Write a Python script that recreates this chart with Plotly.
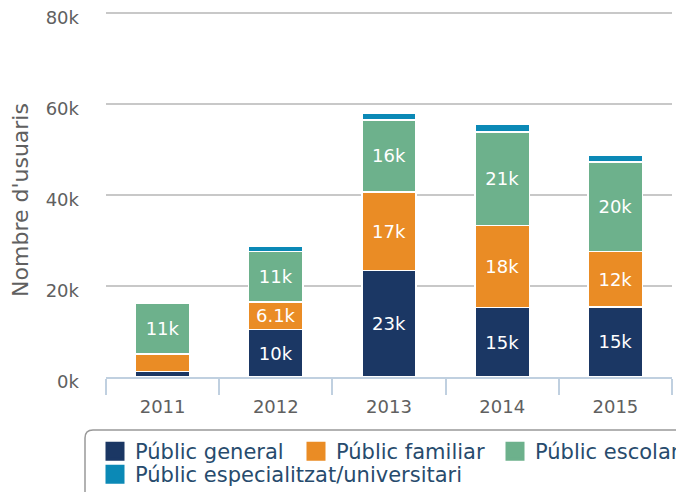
import plotly.graph_objects as go

years = ["2011", "2012", "2013", "2014", "2015"]
public_general = [1.2, 10.4, 23.4, 15.3, 15.4]
public_familiar = [3.9, 6.1, 17.3, 18.0, 12.2]
public_escolar = [11.1, 11.1, 15.8, 20.6, 19.7]
public_especialitzat = [0, 1.1, 1.5, 1.7, 1.5]
y_ticks = [0, 20000, 40000, 60000, 80000]
y_ticklabels = ["0k", "20k", "40k", "60k", "80k"]

series = [
    ("Públic general", public_general, "#1b3764"),
    ("Públic familiar", public_familiar, "#ea8c25"),
    ("Públic escolar", public_escolar, "#6db18c"),
    ("Públic especialitzat/universitari", public_especialitzat, "#0b89b6"),
]
legend_ids = ["legend", "legend", "legend3", "legend2"]

FONT = "DejaVu Sans"

fig = go.Figure()
for name, vals, color in series:
    ys = [v * 1000 for v in vals]
    texts = [f"{v:.2g}k" if v >= 5 else "" for v in vals]
    texts = [t.replace("e+01", "0") for t in texts]
    fig.add_trace(go.Bar(
        x=years, y=ys, name=name, showlegend=False,
        marker=dict(color=color, line=dict(color="white", width=1.5)),
        text=texts, textposition="inside", insidetextanchor="middle",
        constraintext="none",
        textfont=dict(color="white", size=18, family=FONT),
        hoverinfo="skip",
    ))
# legend-only entries with larger square symbols (on the label axis)
for (name, vals, color), lg in zip(series, legend_ids):
    fig.add_trace(go.Scatter(
        x=[None], y=[None], mode="markers", name=name, yaxis="y2",
        marker=dict(symbol="square", size=16, color=color, line=dict(color=color, width=3)),
        showlegend=True, legend=lg,
    ))

# the page has an 8px body margin, so the figure is offset by 8px
W, H = 676, 484
SHIFT = 5  # y tick labels sit a few px below their grid lines
ML, MT, MR, MB = 98, 1, 12, 115 - SHIFT
pw, ph = W - ML - MR, H - MT - MB
plot_top, plot_bottom = 13, 377
YMAX = 80000
pad_units = 700  # small headroom so the top grid line is not clipped
pad_px = pad_units * (plot_bottom - plot_top) / YMAX

def px_x(p):
    return (p - 8 - ML) / pw

def px_y(p):
    return 1 - (p - 8 - MT) / ph

# rounded legend border
x0, x1 = px_x(85), px_x(700)
y0, y1 = px_y(430), px_y(520)
rx, ry = 8 / pw, 8 / ph
path = (f"M {x0+rx},{y0} L {x1-rx},{y0} Q {x1},{y0} {x1},{y0-ry} "
        f"L {x1},{y1+ry} Q {x1},{y1} {x1-rx},{y1} L {x0+rx},{y1} "
        f"Q {x0},{y1} {x0},{y1+ry} L {x0},{y0-ry} Q {x0},{y0} {x0+rx},{y0} Z")

legend_common = dict(
    orientation="h", xanchor="left", yanchor="top",
    borderwidth=0, bgcolor="rgba(0,0,0,0)",
    font=dict(size=21, color="#274b6d", family=FONT),
    traceorder="normal", itemsizing="trace",
)

top_dom = min(1.0, px_y(plot_top - pad_px))

fig.update_layout(
    barmode="stack",
    bargap=0.52,
    width=W, height=H,
    margin=dict(l=ML, r=MR, t=MT, b=MB, autoexpand=False),
    plot_bgcolor="rgba(0,0,0,0)", paper_bgcolor="white",
    font=dict(family=FONT, color="#606060", size=18),
    showlegend=True,
    legend=dict(x=px_x(95), y=px_y(431), entrywidth=156, entrywidthmode="pixels",
                **legend_common),
    legend3=dict(x=px_x(495), y=px_y(431), **legend_common),
    legend2=dict(x=px_x(95), y=px_y(454), **legend_common),
    shapes=[dict(type="path", path=path, xref="paper", yref="paper",
                 line=dict(color="#999999", width=1.5), layer="below")],
    yaxis=dict(
        domain=[px_y(plot_bottom), top_dom],
        range=[0, YMAX + pad_units], tickvals=y_ticks,
        showgrid=True, gridcolor="#c8c8c8", gridwidth=1.5,
        zeroline=False, showticklabels=False,
    ),
    yaxis2=dict(
        domain=[0, px_y(plot_top + SHIFT)], anchor="x",
        range=[0, YMAX], tickvals=y_ticks, ticktext=y_ticklabels,
        showgrid=False, zeroline=False, showline=False,
        ticklabelstandoff=26, ticklabeloverflow="allow",
        tickfont=dict(size=18, color="#606060"),
        title=dict(text="Nombre d'usuaris", font=dict(size=22, color="#606060"), standoff=13),
    ),
)
fig.update_xaxes(
    showline=True, linecolor="#c0d0e0", linewidth=2,
    ticks="outside", tickson="boundaries", ticklen=16, tickcolor="#c0d0e0", tickwidth=1.5,
    tickfont=dict(size=18, color="#606060"), ticklabelstandoff=12,
    showgrid=False,
)
fig.write_html("out.html")
